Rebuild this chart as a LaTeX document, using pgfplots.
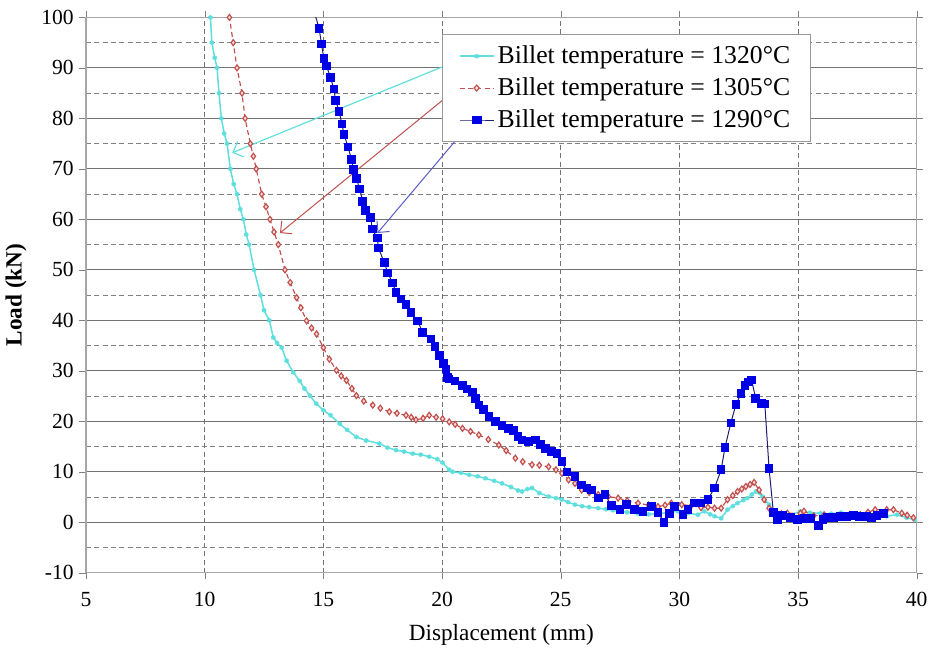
\documentclass[border=0pt]{standalone}
\usepackage{fontspec}
\setmainfont{Liberation Serif}
\usepackage{pgfplots}
\pgfplotsset{compat=1.18}
\usetikzlibrary{arrows.meta}

\definecolor{cyanc}{RGB}{95,222,222}
\definecolor{redc}{RGB}{192,80,77}
\definecolor{bluem}{RGB}{0,0,230}
\definecolor{bluel}{RGB}{30,30,110}
\definecolor{bluea}{RGB}{90,90,200}

\begin{document}
\begin{tikzpicture}
\begin{axis}[
  scale only axis,
  width=501pt, height=335pt,
  xmin=5, xmax=40, ymin=-10, ymax=100,
  xtick={5,10,...,40},
  ytick={-10,0,...,100},
  minor y tick num=1,
  grid=both,
  x grid style={densely dashed, black!55, line width=0.5pt},
  y grid style={black!55, line width=0.6pt},
  minor y grid style={densely dashed, black!50, line width=0.6pt},
  minor tick length=0pt,
  major tick length=4pt,
  tick align=outside,
  tick style={black!50},
  axis line style={black!35, line width=0.8pt},
  /pgf/number format/assume math mode=true,
  ticklabel style={font=\rmfamily\fontsize{13}{15}\selectfont},
  xticklabel style={yshift=-4pt},
  xlabel={Displacement (mm)},
  ylabel={\textbf{Load (kN)}},
  xlabel style={font=\rmfamily\fontsize{14}{16}\selectfont, yshift=-4pt},
  ylabel style={font=\rmfamily\fontsize{14}{16}\selectfont, yshift=2pt},
  legend cell align=left,
  legend style={at={(axis cs:20.0,96.7)}, anchor=north west,
    draw=black!40, fill=white, font=\rmfamily\fontsize{15.5}{18}\selectfont,
    row sep=3pt, inner ysep=5pt, inner xsep=10pt,
    /tikz/every even column/.append style={column sep=4pt}},
  legend image post style={xscale=1.2},
]
\addplot[cyanc, line width=0.9pt, mark=asterisk, mark size=1.4pt] coordinates {
(10.18,103) (10.24,100) (10.30,95) (10.42,92) (10.52,90) (10.60,85) (10.70,80) (10.82,77)
(10.94,75) (11.08,70) (11.22,67) (11.36,65) (11.50,62) (11.63,60) (11.75,57)
(11.87,55) (12.08,50) (12.35,45) (12.50,42) (12.72,40) (12.89,36.6) (13.05,35.5)
(13.24,34.6) (13.45,32) (13.73,29.7) (14.0,28) (14.2,26.5) (14.43,25.1) (14.7,23.5)
(15.0,22.2) (15.3,21.2) (15.69,19.5) (16.0,18.3) (16.39,16.9) (16.8,16.2) (17.36,15.6)
(17.7,14.8) (18.06,14.3) (18.4,14.0) (18.76,13.6) (19.1,13.4) (19.46,13.0) (19.8,12.5)
(20.02,11.8) (20.3,10.4) (20.44,10.0) (20.8,9.8) (21.14,9.4) (21.5,9.1) (21.83,8.7)
(22.2,8.2) (22.53,7.7) (22.9,7.0) (23.2,6.3) (23.37,6.1) (23.6,6.6) (23.79,6.8)
(24.1,5.8) (24.49,5.1) (24.8,4.8) (25.05,4.5) (25.3,4.0) (25.6,3.5) (25.9,3.2)
(26.2,3.0) (26.58,2.8) (26.9,2.6) (27.2,2.4) (27.42,2.2) (27.8,2.0) (28.26,1.7)
(28.7,1.6) (29.1,1.7) (29.5,1.9) (29.94,2.2) (30.36,1.8) (30.78,1.5) (31.05,2.2)
(31.3,1.6) (31.48,1.2) (31.76,0.8) (32.03,2.5) (32.25,3.2) (32.45,3.8) (32.7,4.4)
(32.87,4.8) (33.05,5.5) (33.22,6.1) (33.5,5.1) (33.78,3.5) (34.06,1.8) (34.3,1.4)
(34.55,1.2) (35.1,2.2) (35.5,1.9) (35.94,1.8) (36.4,1.7) (36.8,1.9) (37.34,1.8)
(37.8,1.5) (38.32,1.3) (38.74,1.2) (39.16,1.5) (39.58,0.9) (39.93,0.5)
};
\addlegendentry{Billet temperature = 1320°C}
\addplot[redc, densely dashed, line width=0.7pt, mark=diamond*,
  mark options={solid, fill=pink!60, draw=redc}, mark size=1.8pt] coordinates {
(11.0,102) (11.04,100) (11.2,95) (11.36,90) (11.57,85) (11.70,80) (11.92,75) (12.05,72.5)
(12.17,70) (12.4,65) (12.58,62.5) (12.75,60) (12.92,57.5) (13.1,55) (13.38,50)
(13.6,47.5) (13.87,44.5) (14.05,42.5) (14.29,39.9) (14.5,38.5) (14.71,37.3)
(15.0,34.6) (15.25,32.3) (15.55,30.1) (15.75,29.0) (15.97,28.1) (16.2,26.5)
(16.39,25.1) (16.7,24.0) (17.08,23.2) (17.4,22.6) (17.78,21.9) (18.1,21.6)
(18.48,21.2) (18.7,20.8) (18.9,20.3) (19.2,20.6) (19.46,21.2) (19.75,20.8)
(20.02,20.5) (20.3,19.9) (20.55,19.4) (20.86,18.6) (21.2,18.0) (21.55,17.3)
(21.95,16.4) (22.39,15.3) (22.7,14.2) (23.09,12.7) (23.4,12.0) (23.79,11.4)
(24.1,11.3) (24.49,11.0) (24.8,10.4) (25.05,9.7) (25.33,8.4) (25.6,7.7) (25.88,6.4)
(26.2,5.9) (26.58,5.5) (27.0,5.1) (27.42,4.8) (27.8,4.3) (28.26,3.8) (28.7,3.4)
(29.1,3.1) (29.4,3.4) (29.66,3.8) (30.1,3.5) (30.5,3.3) (30.91,2.9) (31.2,3.0)
(31.48,2.8) (31.76,2.8) (32.03,4.5) (32.25,5.3) (32.45,6.1) (32.63,6.6) (32.8,7.1)
(32.98,7.5) (33.15,7.9) (33.36,6.4) (33.57,4.5) (33.78,2.8) (33.99,1.8) (34.3,1.7)
(34.55,1.8) (35.1,1.8) (35.25,2.2) (35.66,1.3) (36.1,1.5) (36.64,1.2) (37.1,1.3)
(37.62,1.5) (37.95,2.0) (38.25,2.5) (38.74,2.5) (39.02,2.5) (39.37,1.8) (39.6,1.4)
(39.86,0.9)
};
\addlegendentry{Billet temperature = 1305°C}
\addplot[bluel, line width=0.6pt, mark=square*,
  mark options={fill=bluem, draw=bluem}, mark size=2.3pt] coordinates {
(14.62,101) (14.82,97.8) (14.92,94.7) (15.02,91.9) (15.13,90.4) (15.30,88.1)
(15.44,85.8) (15.52,83.5) (15.66,81.4) (15.78,78.9) (15.87,76.8) (16.04,74.3)
(16.18,71.9) (16.27,69.9) (16.39,68.1) (16.53,66.0) (16.66,63.6) (16.78,61.7)
(16.99,60.4) (17.06,58.1) (17.27,56.3) (17.32,54.3) (17.57,51.4) (17.71,49.4)
(17.92,47.4) (18.06,45.5) (18.27,44.2) (18.48,43.2) (18.69,41.5) (18.97,39.9)
(19.18,37.6) (19.53,36.3) (19.7,34.8) (19.88,33.0) (20.05,31.5) (20.16,30.4)
(20.23,28.7) (20.3,28.4) (20.55,28.0) (20.86,27.1) (21.05,26.4) (21.27,25.8)
(21.4,24.5) (21.55,23.2) (21.75,22.3) (21.97,20.9) (22.25,20.0) (22.53,19.2)
(22.8,18.6) (23.02,18.2) (23.2,17.0) (23.37,16.3) (23.65,16.0) (23.93,16.3)
(24.15,15.4) (24.35,14.6) (24.6,14.0) (24.84,13.6) (25.05,12.0) (25.26,10.0)
(25.6,9.1) (25.88,7.4) (26.1,6.8) (26.3,6.4) (26.58,4.8) (26.86,5.5) (27.14,3.3)
(27.49,2.5) (27.77,3.5) (28.12,2.5) (28.47,2.2) (28.82,3.1) (29.1,2.0) (29.35,0.0)
(29.59,1.8) (29.8,3.1) (30.15,1.5) (30.36,2.5) (30.64,3.8) (30.91,3.8) (31.2,4.5)
(31.48,6.8) (31.76,10.4) (31.92,14.8) (32.17,19.7) (32.38,23.3) (32.6,25.5)
(32.76,27.1) (32.9,27.8) (33.04,28.2) (33.22,24.5) (33.46,23.5) (33.6,23.4)
(33.78,10.6) (33.96,2.0) (34.13,0.5) (34.34,1.3) (34.69,0.9) (34.97,0.6)
(35.25,0.8) (35.52,0.7) (35.87,-0.6) (36.05,0.6) (36.23,0.9) (36.5,1.0)
(36.78,1.2) (37.05,1.1) (37.34,1.3) (37.6,1.2) (37.9,1.2) (38.1,1.0) (38.32,1.3)
(38.6,1.7)
};
\addlegendentry{Billet temperature = 1290°C}
% annotation arrows from the legend to the curves
\draw[cyanc, line width=0.7pt, -{Straight Barb[length=5pt]}] (axis cs:21.0,92.1) -- (axis cs:11.16,73.2);
\draw[redc, line width=0.6pt, -{Straight Barb[length=5pt]}] (axis cs:20.7,86.2) -- (axis cs:13.17,57.3);
\draw[bluea, line width=0.6pt, -{Straight Barb[length=5pt]}] (axis cs:21.0,78.0) -- (axis cs:17.28,57.3);
\end{axis}
\path ([yshift=10.5pt]current axis.north);
\end{tikzpicture}
\end{document}
